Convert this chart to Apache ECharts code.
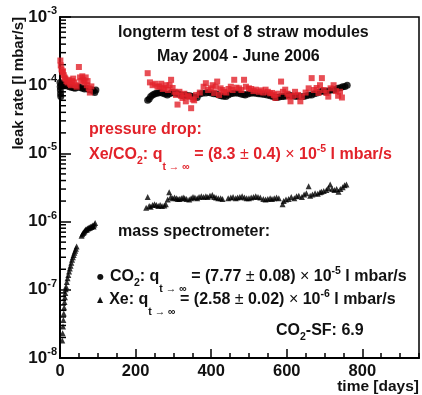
<!DOCTYPE html>
<html>
<head>
<meta charset="utf-8">
<script src="https://cdn.jsdelivr.net/npm/echarts@6/dist/echarts.min.js"></script>
<style>
html, body { margin: 0; padding: 0; background: #fff; }
#chart { width: 422px; height: 395px; }
</style>
</head>
<body>
<div id="chart"></div>
<script>
// x axis: time in days, y axis: leak rate in l mbar/s (log)
const dayMax = 950
const dayTickStep = 200
const dayMinorStep = 50
const rateMin = 1e-8
const rateMax = 1e-3
const minorMantissas = [2, 3, 4, 5, 6, 7, 8, 9]
const minorDecades = [1e-8, 1e-7, 1e-6, 1e-5, 1e-4]

// red squares: pressure drop (Xe/CO2)
const pressureDrop = [
  [1, 2.3e-4], [2, 1.95e-4], [4, 1.7e-4], [6, 1.55e-4], [8, 1.6e-4], [10, 1.4e-4], [12, 1.3e-4],
  [14, 1.25e-4], [17, 1.15e-4], [20, 1.1e-4], [23, 1.2e-4], [26, 1.05e-4], [29, 1.0e-4], [32, 1.15e-4],
  [35, 1.25e-4], [38, 1.1e-4], [41, 1.0e-4], [44, 0.95e-4], [50, 1.85e-4], [53, 1.3e-4], [56, 1.15e-4],
  [59, 1.35e-4], [62, 1.2e-4], [65, 1.1e-4], [68, 1.3e-4], [71, 1.0e-4], [73, 1.15e-4], [76, 0.9e-4],
  [79, 0.78e-4], [83, 0.96e-4],
  [232, 1.5e-4], [238, 1.1e-4], [245, 1.0e-4], [252, 1.05e-4], [258, 0.95e-4], [263, 0.96e-4],
  [268, 1.05e-4], [272, 0.88e-4], [276, 0.91e-4], [281, 1.0e-4], [286, 0.85e-4], [290, 1.0e-4],
  [294, 1.2e-4], [298, 0.91e-4], [303, 0.8e-4], [307, 0.72e-4], [311, 0.52e-4], [316, 0.8e-4],
  [320, 0.7e-4], [324, 0.65e-4], [329, 0.75e-4], [333, 0.58e-4], [338, 0.7e-4], [342, 0.68e-4],
  [347, 0.46e-4], [351, 0.62e-4], [355, 0.6e-4], [360, 0.72e-4], [370, 0.78e-4], [380, 0.95e-4],
  [386, 1.07e-4], [392, 0.85e-4], [399, 0.9e-4], [404, 1.0e-4], [408, 0.77e-4], [412, 0.95e-4],
  [416, 1.13e-4], [421, 0.72e-4], [425, 0.9e-4], [430, 0.85e-4], [434, 0.8e-4], [440, 0.78e-4],
  [446, 0.88e-4], [452, 0.95e-4], [457, 0.85e-4], [461, 1.2e-4], [467, 0.92e-4], [474, 0.9e-4],
  [480, 0.85e-4], [487, 1.2e-4], [492, 0.95e-4], [500, 0.9e-4], [506, 0.88e-4], [512, 0.82e-4],
  [518, 0.86e-4], [526, 0.8e-4], [532, 0.84e-4], [538, 0.78e-4], [544, 0.86e-4], [550, 0.8e-4],
  [556, 0.76e-4], [561, 0.77e-4], [566, 0.72e-4], [570, 0.65e-4], [576, 0.75e-4], [585, 1.13e-4],
  [590, 0.8e-4], [596, 0.86e-4], [602, 0.75e-4], [606, 0.68e-4], [610, 0.58e-4], [616, 0.7e-4],
  [622, 0.8e-4], [630, 0.72e-4], [636, 0.58e-4], [640, 0.68e-4], [650, 0.78e-4], [658, 0.9e-4],
  [666, 1.27e-4], [672, 0.85e-4], [679, 0.91e-4], [684, 0.77e-4], [688, 1.0e-4], [693, 1.27e-4],
  [698, 0.85e-4], [705, 0.77e-4], [710, 0.68e-4], [716, 0.9e-4], [724, 1.0e-4], [730, 0.82e-4],
  [736, 0.7e-4], [741, 0.8e-4], [746, 0.66e-4]
]

// black circles: mass spectrometer CO2
const co2Rate = [
  [0, 1.1e-4], [0.5, 0.95e-4], [1, 0.85e-4], [1.5, 0.75e-4], [2, 0.68e-4], [3, 1.0e-4], [5, 1.05e-4],
  [8, 1.0e-4], [12, 0.98e-4], [16, 1.02e-4], [20, 0.97e-4], [25, 0.95e-4], [30, 0.93e-4], [35, 0.92e-4],
  [40, 0.9e-4], [45, 0.93e-4], [50, 0.95e-4], [55, 0.92e-4], [60, 0.9e-4], [65, 0.88e-4], [70, 0.9e-4],
  [75, 0.87e-4], [80, 0.85e-4], [85, 0.86e-4], [88, 0.82e-4], [92, 0.78e-4], [95, 0.85e-4],
  [232, 0.6e-4], [236, 0.63e-4], [240, 0.68e-4], [245, 0.72e-4], [250, 0.74e-4], [255, 0.76e-4],
  [260, 0.77e-4], [266, 0.78e-4], [272, 0.76e-4], [278, 0.74e-4], [284, 0.72e-4], [290, 0.75e-4],
  [296, 0.78e-4], [302, 0.77e-4], [308, 0.76e-4], [314, 0.74e-4], [320, 0.72e-4], [326, 0.7e-4],
  [332, 0.72e-4], [338, 0.7e-4], [344, 0.7e-4], [350, 0.68e-4], [356, 0.67e-4], [363, 0.66e-4],
  [370, 0.74e-4], [377, 0.76e-4], [386, 0.77e-4], [393, 0.78e-4], [400, 0.77e-4], [407, 0.75e-4],
  [414, 0.74e-4], [420, 0.72e-4], [426, 0.7e-4], [432, 0.69e-4], [439, 0.68e-4], [445, 0.72e-4],
  [452, 0.75e-4], [458, 0.76e-4], [465, 0.77e-4], [472, 0.76e-4], [479, 0.74e-4], [485, 0.73e-4],
  [490, 0.72e-4], [497, 0.74e-4], [504, 0.76e-4], [511, 0.77e-4], [518, 0.76e-4], [525, 0.75e-4],
  [532, 0.74e-4], [540, 0.73e-4], [548, 0.72e-4], [556, 0.7e-4], [563, 0.68e-4], [570, 0.66e-4],
  [574, 0.66e-4], [580, 0.67e-4], [586, 0.68e-4], [592, 0.68e-4], [598, 0.7e-4], [606, 0.72e-4],
  [612, 0.7e-4], [620, 0.69e-4], [628, 0.68e-4], [636, 0.68e-4], [645, 0.68e-4], [652, 0.7e-4],
  [659, 0.72e-4], [666, 0.72e-4], [673, 0.75e-4], [680, 0.77e-4], [688, 0.8e-4], [695, 0.82e-4],
  [702, 0.8e-4], [709, 0.82e-4], [716, 0.84e-4], [722, 0.86e-4], [728, 0.86e-4], [735, 0.9e-4],
  [742, 0.92e-4], [748, 0.95e-4], [754, 0.96e-4], [760, 1.0e-4]
]

// black triangles: mass spectrometer Xe
const xeRate = [
  [6, 1.8e-8], [7, 2.3e-8], [8, 2.9e-8], [9, 3.6e-8], [10, 4.5e-8], [11, 5.5e-8], [12, 6.6e-8],
  [13, 7.8e-8], [14, 9.0e-8], [15, 1.02e-7], [16, 1.12e-7], [18, 1.3e-7], [20, 1.48e-7], [22, 1.65e-7],
  [24, 1.85e-7], [26, 2.05e-7], [28, 2.25e-7], [30, 2.5e-7], [32, 2.75e-7], [34, 3.0e-7], [36, 3.25e-7],
  [38, 3.5e-7], [40, 3.75e-7], [42, 4.0e-7], [44, 4.3e-7],
  [57, 6.2e-7], [59, 6.5e-7], [61, 6.8e-7], [63, 7.0e-7], [65, 7.2e-7], [67, 7.5e-7], [69, 7.7e-7],
  [71, 7.6e-7], [73, 7.9e-7], [75, 8.0e-7], [77, 8.2e-7], [79, 8.1e-7], [81, 8.4e-7], [83, 8.3e-7],
  [85, 8.6e-7], [87, 8.8e-7], [89, 8.5e-7], [91, 9.1e-7], [93, 9.5e-7],
  [228, 1.6e-6], [232, 2.3e-6], [236, 1.7e-6], [240, 1.65e-6], [245, 1.75e-6], [250, 1.8e-6],
  [255, 1.75e-6], [260, 1.7e-6], [265, 1.75e-6], [270, 1.7e-6], [276, 1.72e-6], [280, 1.8e-6],
  [285, 2.1e-6], [289, 2.7e-6], [293, 2.3e-6], [298, 2.2e-6], [303, 2.25e-6], [308, 2.2e-6],
  [312, 2.15e-6], [316, 2.15e-6], [321, 2.2e-6], [326, 2.25e-6], [330, 2.2e-6], [335, 2.15e-6],
  [342, 2.1e-6], [347, 2.2e-6], [352, 2.3e-6], [357, 2.25e-6], [363, 2.2e-6], [368, 2.3e-6],
  [374, 2.35e-6], [380, 2.3e-6], [386, 2.36e-6], [391, 2.3e-6], [397, 2.4e-6], [403, 2.45e-6],
  [408, 2.3e-6], [413, 2.25e-6], [419, 2.2e-6], [425, 2.2e-6], [430, 2.15e-6], [445, 2.2e-6],
  [452, 2.25e-6], [458, 2.3e-6], [465, 2.2e-6], [470, 2.25e-6], [476, 2.3e-6], [482, 2.36e-6],
  [488, 2.25e-6], [494, 2.2e-6], [500, 2.2e-6], [506, 2.25e-6], [512, 2.3e-6], [518, 2.36e-6],
  [524, 2.3e-6], [530, 2.25e-6], [538, 2.15e-6], [544, 2.1e-6], [550, 2.15e-6], [556, 2.2e-6],
  [561, 2.15e-6], [567, 2.2e-6], [573, 2.25e-6], [579, 2.2e-6], [589, 1.8e-6], [592, 2.0e-6],
  [598, 2.1e-6], [605, 2.15e-6], [612, 2.3e-6], [620, 2.2e-6], [626, 2.35e-6], [632, 2.4e-6],
  [640, 2.3e-6], [646, 2.5e-6], [652, 2.6e-6], [658, 3.3e-6], [662, 2.4e-6], [668, 2.5e-6],
  [675, 2.6e-6], [682, 2.55e-6], [688, 2.7e-6], [692, 2.75e-6], [698, 2.8e-6], [705, 2.9e-6],
  [710, 3.1e-6], [715, 3.5e-6], [720, 3.0e-6], [726, 2.9e-6], [732, 3.0e-6], [737, 2.75e-6],
  [742, 3.0e-6], [748, 3.2e-6], [753, 3.4e-6], [758, 3.5e-6]
]

const RED = '#e2222a'
const INK = '#111'
const FONT = '"Liberation Sans", Arial, sans-serif'

// minor log ticks at 2..9 of each decade
const minorTicks = []
minorDecades.forEach(function (d) {
  minorMantissas.forEach(function (m) { minorTicks.push([0, m * d]) })
})

const rich = {
  t: { fontSize: 16, fontWeight: 'bold', fontFamily: FONT },
  n: { fontSize: 16, fontWeight: 'normal', fontFamily: FONT },
  sub: { fontSize: 10.5, fontWeight: 'bold', fontFamily: FONT, padding: [12, 0, 0, 0] },
  subq: { fontSize: 10.5, fontWeight: 'bold', fontFamily: FONT, padding: [25, 0, 0, 0] },
  sup: { fontSize: 10.5, fontWeight: 'bold', fontFamily: FONT, padding: [0, 0, 12, 0] },
  m: { fontSize: 8, fontFamily: '"DejaVu Sans", sans-serif', padding: [0, 6, 0, 0] }
}

function label(x, y, text, color) {
  return {
    type: 'text', x: x, y: y, silent: true,
    style: { text: text, rich: rich, fill: color, verticalAlign: 'middle', align: 'left',
      fontSize: 16, fontWeight: 'bold', fontFamily: FONT }
  }
}

const myChart = echarts.init(document.getElementById('chart'))
myChart.setOption({
  animation: false,
  backgroundColor: '#fff',
  grid: {
    left: 60, top: 17, right: 2, bottom: 36,
    show: true, borderColor: '#000', borderWidth: 1.5
  },
  xAxis: [
    {
      type: 'value',
      min: 0, max: dayMax, interval: dayTickStep,
      name: 'time [days]',
      nameLocation: 'end', nameGap: 0, nameMoveOverlap: false,
      nameTextStyle: { color: INK, fontSize: 15.5, fontWeight: 'bold', fontFamily: FONT,
        align: 'right', verticalAlign: 'top', padding: [21, 0, 0, 0] },
      axisLine: { lineStyle: { color: '#000', width: 2 } },
      axisTick: { inside: true, length: 9, lineStyle: { color: '#000', width: 1.5 } },
      axisLabel: { color: INK, fontSize: 16.5, fontWeight: 'bold', fontFamily: FONT, margin: 5,
        showMaxLabel: false },
      splitLine: { show: false }
    },
    {
      type: 'value',
      min: 0, max: dayMax, interval: dayMinorStep,
      position: 'bottom',
      axisLine: { show: false },
      axisTick: { inside: true, length: 5, lineStyle: { color: '#000', width: 1.5 } },
      axisLabel: { show: false },
      splitLine: { show: false }
    }
  ],
  yAxis: {
    type: 'log',
    logBase: 10,
    min: rateMin, max: rateMax,
    name: 'leak rate [l mbar/s]',
    nameLocation: 'end', nameRotate: 90, nameGap: 0, nameMoveOverlap: false,
    nameTextStyle: { color: INK, fontSize: 15, fontWeight: 'bold', fontFamily: FONT,
      align: 'right', verticalAlign: 'bottom', padding: [0, 0, 34, 0] },
    axisLine: { lineStyle: { color: '#000', width: 2 } },
    axisTick: { inside: true, length: 11, lineStyle: { color: '#000', width: 1.5 } },
    axisLabel: {
      margin: 3,
      formatter: function (v) {
        return '{b|10}{s|' + Math.round(Math.log10(v)) + '}'
      },
      rich: {
        b: { fontSize: 17, fontWeight: 'bold', fontFamily: FONT, color: INK },
        s: { fontSize: 11, fontWeight: 'bold', fontFamily: FONT, color: INK, padding: [0, 0, 12, 0] }
      }
    },
    splitLine: { show: false }
  },
  series: [
    {
      type: 'custom',
      silent: true,
      data: minorTicks,
      renderItem: function (params, api) {
        const p = api.coord([0, api.value(1)])
        return {
          type: 'line',
          shape: { x1: p[0], y1: p[1], x2: p[0] + 6, y2: p[1] },
          style: { stroke: '#000', lineWidth: 1.5 }
        }
      }
    },
    {
      name: 'CO2',
      type: 'scatter',
      symbol: 'circle',
      symbolSize: 7,
      itemStyle: { color: '#000' },
      data: co2Rate
    },
    {
      name: 'pressure drop',
      type: 'scatter',
      symbol: 'rect',
      symbolSize: 6,
      itemStyle: { color: RED },
      data: pressureDrop
    },
    {
      name: 'Xe',
      type: 'scatter',
      symbol: 'triangle',
      symbolSize: 6,
      itemStyle: { color: '#000' },
      data: xeRate
    }
  ],
  graphic: [
    label(118, 33, '{t|longterm test of 8 straw modules}', INK),
    label(157, 57, '{t|May 2004 - June 2006}', INK),
    label(89, 130, '{t|pressure drop:}', RED),
    label(89, 155, '{t|Xe/CO}{sub|2}{t|: q}{subq|t → ∞}{t| = (8.3 }{n|±}{t| 0.4) }{n|×}{t| 10}{sup|-5}{t| l mbar/s}', RED),
    label(118, 232, '{t|mass spectrometer:}', INK),
    label(97, 277, '{m|●}{t|CO}{sub|2}{t|: q}{subq|t → ∞}{t| = (7.77 }{n|±}{t| 0.08) }{n|×}{t| 10}{sup|-5}{t| l mbar/s}', INK),
    label(97, 300, '{m|▲}{t|Xe: q}{subq|t → ∞}{t| = (2.58 }{n|±}{t| 0.02) }{n|×}{t| 10}{sup|-6}{t| l mbar/s}', INK),
    label(276, 331, '{t|CO}{sub|2}{t|-SF: 6.9}', INK)
  ]
})
</script>
</body>
</html>
